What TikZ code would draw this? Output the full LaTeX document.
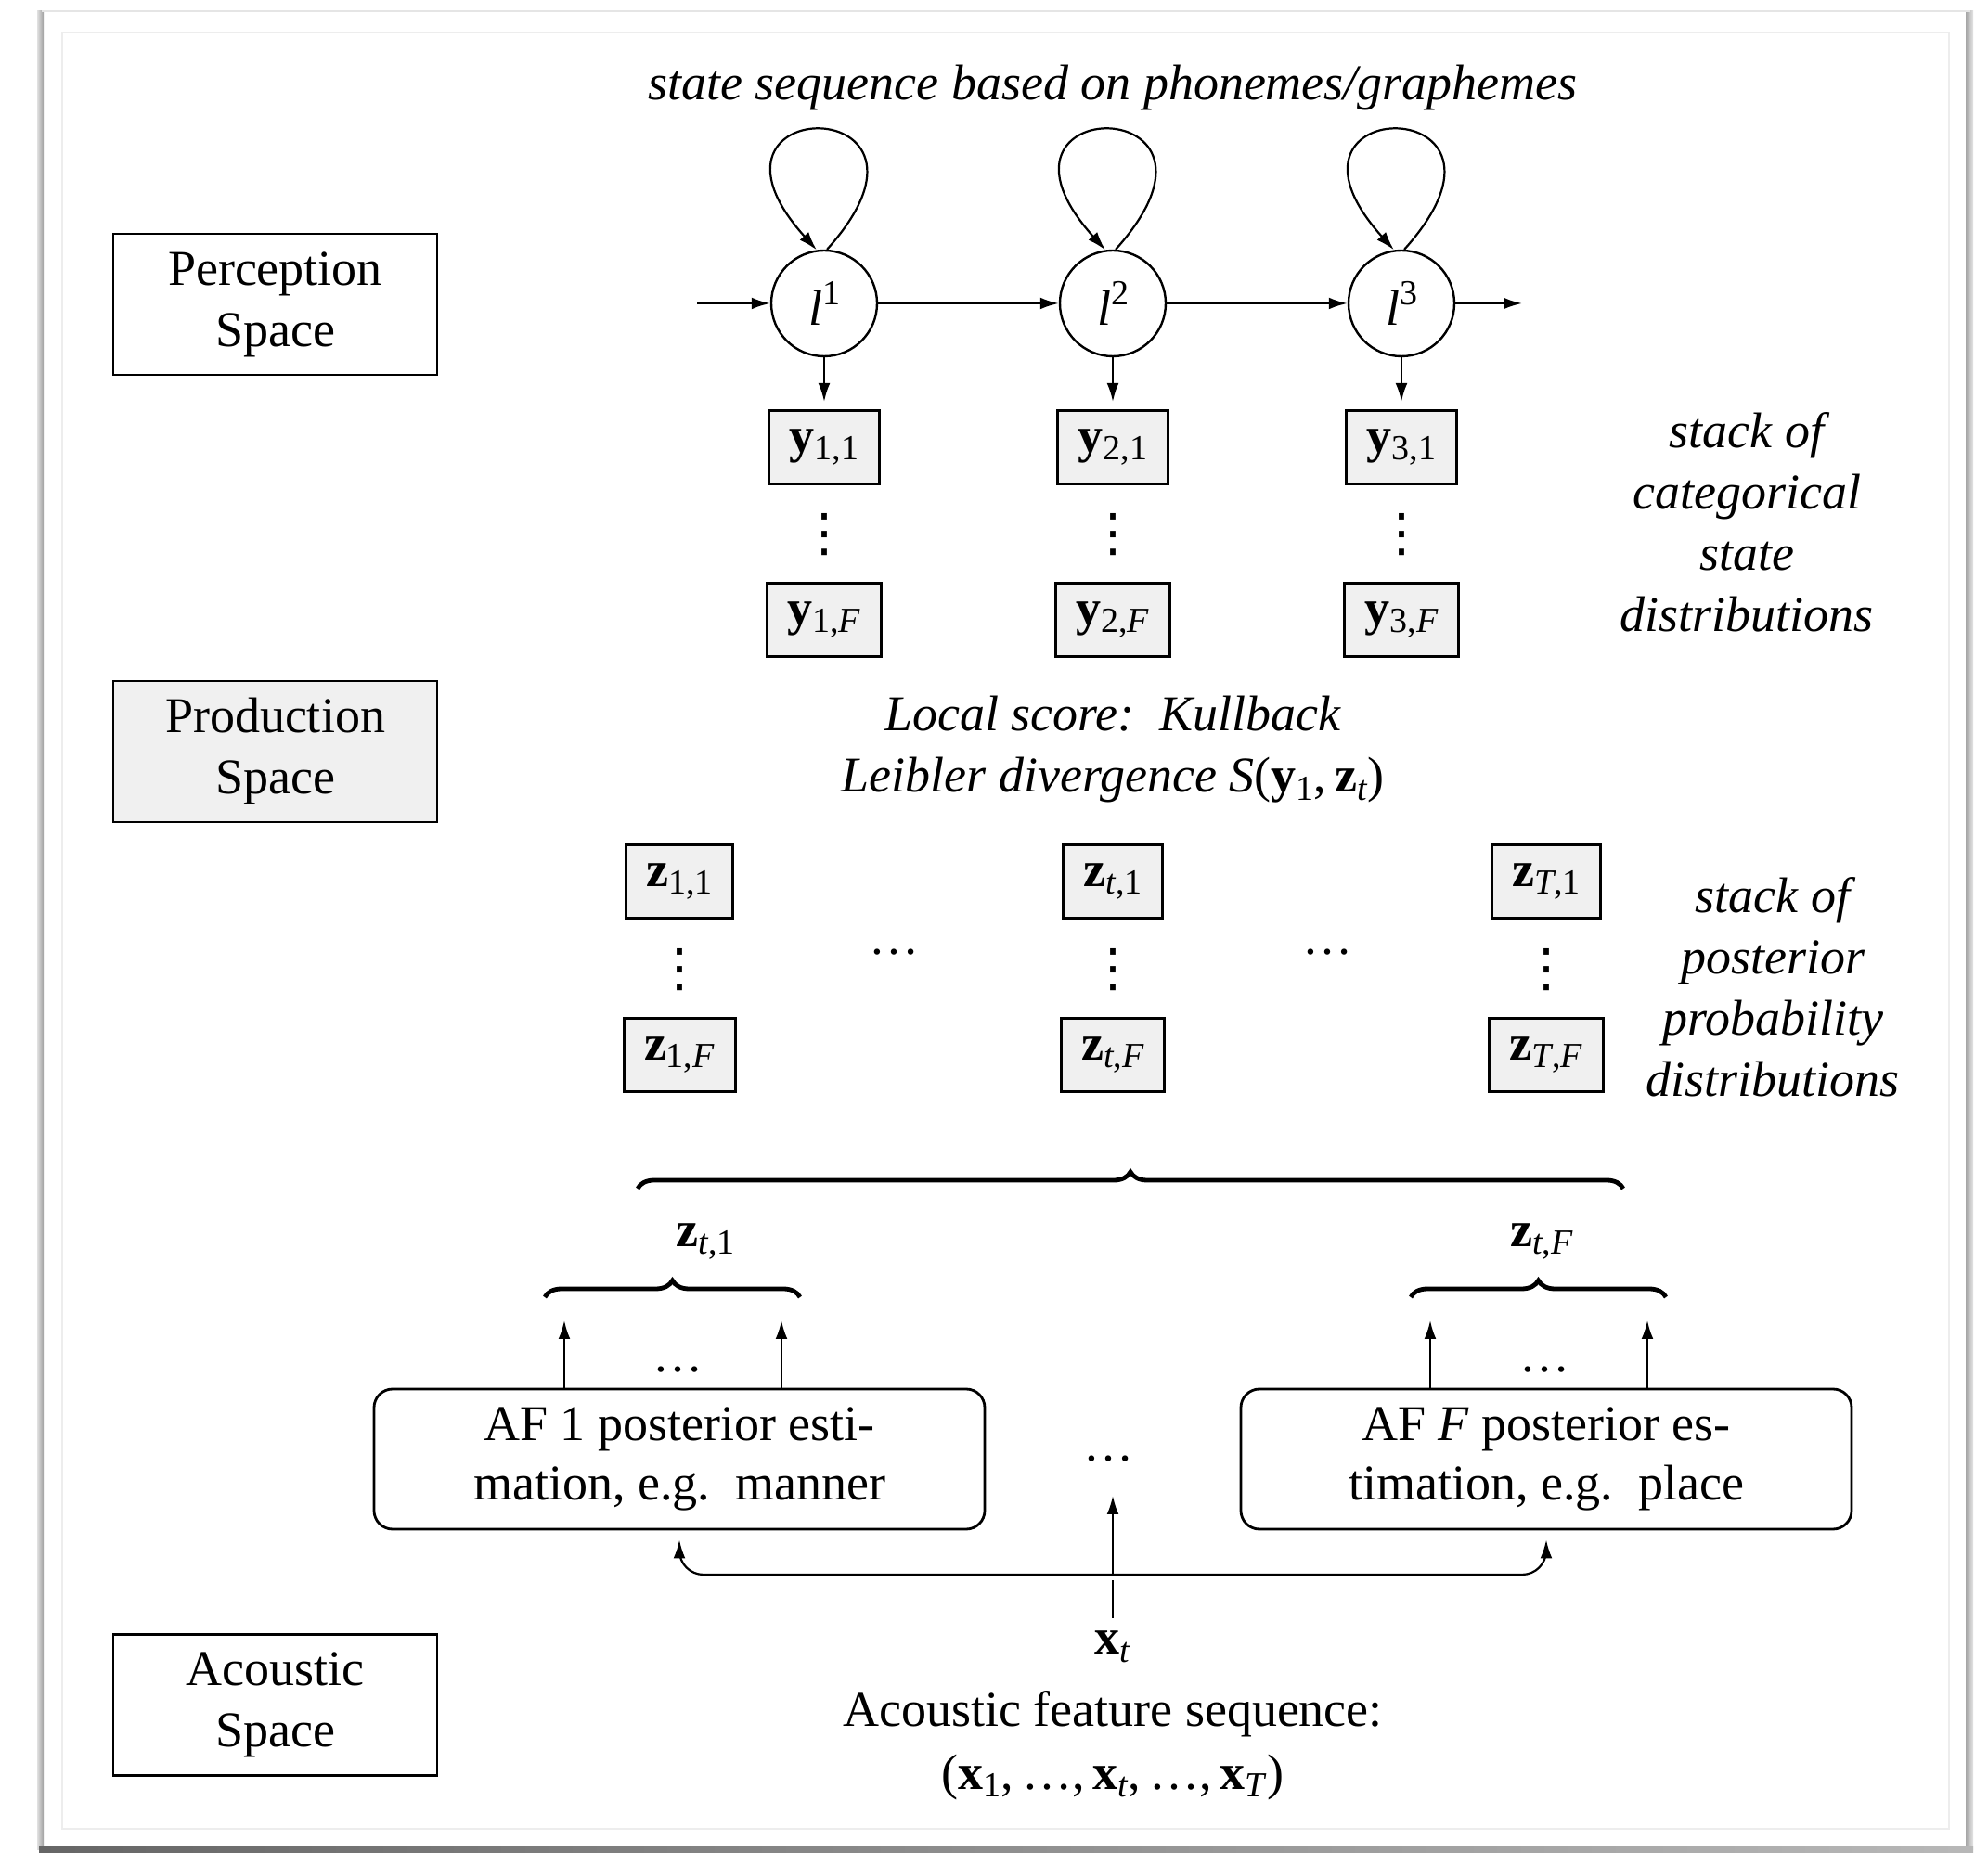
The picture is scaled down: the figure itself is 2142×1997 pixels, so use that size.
\documentclass[tikz,border=0pt]{standalone}
\usepackage{fontspec}
\setmainfont{Liberation Serif}
\newfontfamily\dotfont{DejaVu Sans}
\usetikzlibrary{arrows.meta,decorations.pathreplacing,calc}

% bold vector with a lowered small subscript
\newcommand{\bsub}[2]{{\normalfont\textbf{#1}\raisebox{-0.35ex}{\fontsize{9.5pt}{10pt}\selectfont #2}}}
% raised small superscript
\newcommand{\ssup}[1]{\raisebox{0.9ex}{\fontsize{9.5pt}{10pt}\selectfont #1}}
% vertical ellipsis
\newcommand{\vdotz}{{\dotfont\fontsize{14pt}{14pt}\selectfont ⋮}}

\tikzset{
  every node/.style={font=\fontsize{13.5pt}{16.5pt}\selectfont},
  spacebox/.style={draw, line width=0.7pt, minimum width=87.25pt, minimum height=38pt, align=center, inner sep=0pt},
  statenode/.style={circle, draw, line width=0.6pt, minimum size=28.5pt, inner sep=0pt},
  vecbox/.style={draw, fill=black!6, line width=0.75pt, minimum height=19.75pt, inner xsep=5.5pt, inner ysep=0pt},
  afbox/.style={draw, rounded corners=5pt, line width=0.7pt, minimum width=164.5pt, minimum height=37.75pt, align=center, inner sep=0pt, font=\fontsize{13.5pt}{16pt}\selectfont},
  arr/.style={-{Latex[length=5pt,width=3.2pt]}, line width=0.55pt},
  plain/.style={line width=0.55pt},
  bracestyle/.style={decorate, decoration={brace, amplitude=4.5pt}, line width=1.2pt},
  note/.style={align=center, font=\fontsize{13.5pt}{16.5pt}\selectfont\itshape},
}

\begin{document}
\begin{tikzpicture}[x=0.25pt, y=-0.25pt]
  % page and framed panel
  \useasboundingbox (0,0) rectangle (2142,1997);
  \fill[white] (0,0) rectangle (2142,1997);
  \shade[left color=black!12, right color=black!38] (40,12) rectangle (47,1993);
  \shade[left color=black!35, right color=black!10] (2118,12) rectangle (2126,1993);
  \shade[left color=black!60, right color=black!28] (42,1989) rectangle (2126,1997);
  \draw[black!10, line width=0.5pt] (45,12) -- (2123,12);
  \draw[black!7, line width=0.6pt] (67,35) rectangle (2100,1971);

  % space labels on the left
  \node[spacebox] (perc) at (296.5,328) {Perception\\Space};
  \node[spacebox, fill=black!6] (prod) at (296.5,810) {Production\\Space};
  \node[spacebox] (acou) at (296.5,1837.5) {Acoustic\\Space};

  % state sequence
  \node[note] (title) at (1199,95) {state sequence based on phonemes/graphemes};
  \node[statenode] (l1) at (888,327) {\textit{l}\ssup{1}};
  \node[statenode] (l2) at (1199,327) {\textit{l}\ssup{2}};
  \node[statenode] (l3) at (1510,327) {\textit{l}\ssup{3}};
  \coordinate (entry) at (751,327);
  \coordinate (exit) at (1640,327);
  \draw[arr] (entry) -- (l1);
  \draw[arr] (l1) -- (l2);
  \draw[arr] (l2) -- (l3);
  \draw[arr] (l3) -- (exit);
  \foreach \s in {l1,l2,l3}
    \draw[arr] (\s.87) .. controls +(155,-172) and +(-155,-172) .. (\s.98);

  % categorical state distributions
  \foreach \s/\i/\x in {l1/1/888, l2/2/1199, l3/3/1510} {
    \node[vecbox] (y\i1) at (\x,482) {\bsub{y}{\i,1}};
    \node (yd\i) at (\x,576) {\vdotz};
    \node[vecbox] (y\i F) at (\x,668) {\bsub{y}{\i,\textit{F}}};
    \draw[arr, shorten >=2pt] (\s) -- (y\i1);
  }
  \node[note] (ylab) at (1882,563) {stack of\\categorical\\state\\distributions};

  % local score
  \node[note] (kl) at (1199,808) {Local score:\ \ Kullback\\Leibler divergence
    \textit{S}\textup{(}\bsub{y}{1}\textup{,\,}\bsub{z}{\textit{t}}\textup{)}};

  % posterior probability distributions
  \node[vecbox] (z11) at (732,950) {\bsub{z}{1,1}};
  \node[vecbox] (zt1) at (1199,950) {\bsub{z}{\textit{t},1}};
  \node[vecbox] (zT1) at (1666,950) {\bsub{z}{\textit{T},1}};
  \node[vecbox] (z1F) at (732,1137) {\bsub{z}{1,\textit{F}}};
  \node[vecbox] (ztF) at (1199,1137) {\bsub{z}{\textit{t},\textit{F}}};
  \node[vecbox] (zTF) at (1666,1137) {\bsub{z}{\textit{T},\textit{F}}};
  \node (zd1) at (732,1045) {\vdotz};
  \node (zdt) at (1199,1045) {\vdotz};
  \node (zdT) at (1666,1045) {\vdotz};
  \node (zh1) at (963,1026) {\ldots};
  \node (zh2) at (1430,1026) {\ldots};
  \node[note] (zlab) at (1910,1064) {stack of\\posterior\\probability\\distributions};

  % braces
  \coordinate (bA) at (687,1281);
  \coordinate (bB) at (1749,1281);
  \draw[bracestyle] (bA) -- (bB);
  \coordinate (b1A) at (587,1398);
  \coordinate (b1B) at (862,1398);
  \draw[bracestyle] (b1A) -- (b1B);
  \coordinate (b2A) at (1520,1398);
  \coordinate (b2B) at (1795,1398);
  \draw[bracestyle] (b2A) -- (b2B);
  \node (zb1) at (760,1338) {\bsub{z}{\textit{t},1}};
  \node (zbF) at (1661,1338) {\bsub{z}{\textit{t},\textit{F}}};

  % articulatory feature estimators
  \node[afbox] (af1) at (732,1572.5) {AF 1 posterior esti-\\mation, e.g.\ \ manner};
  \node[afbox] (afF) at (1666,1572.5) {AF \textit{F} posterior es-\\timation, e.g.\ \ place};
  \node (afmid) at (1194,1572) {\ldots};

  \coordinate (u1) at (608,1423);
  \coordinate (u2) at (842,1423);
  \coordinate (u3) at (1541,1423);
  \coordinate (u4) at (1775,1423);
  \draw[arr] (af1.north -| u1) -- (u1);
  \draw[arr] (af1.north -| u2) -- (u2);
  \draw[arr] (afF.north -| u3) -- (u3);
  \draw[arr] (afF.north -| u4) -- (u4);
  \node (ud1) at (730,1476) {\ldots};
  \node (ud2) at (1664,1476) {\ldots};

  % acoustic input
  \node (xt) at (1199,1775) {\bsub{x}{\textit{t}}};
  \coordinate (xtop) at (1199,1703);
  \coordinate (split) at (1199,1697);
  \coordinate (xup) at (1199,1612);
  \draw[plain] (xt) -- (xtop);
  \draw[arr] (split) -- (xup);
  \draw[arr, rounded corners=6.5pt, shorten >=2.5pt] (split) -| (af1.south);
  \draw[arr, rounded corners=6.5pt, shorten >=2.5pt] (split) -| (afF.south);

  \node[align=center, font=\fontsize{13.5pt}{17pt}\selectfont] (seq) at (1199,1881)
    {Acoustic feature sequence:\\(\bsub{x}{1},\,\ldots,\,\bsub{x}{\textit{t}},\,\ldots,\,\bsub{x}{\textit{T}})};
\end{tikzpicture}
\end{document}
